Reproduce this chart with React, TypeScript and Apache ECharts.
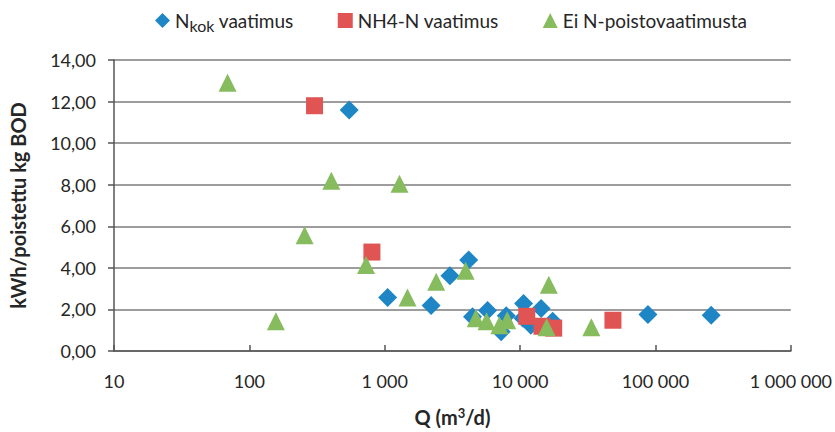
import React, { useEffect, useRef } from "react";
import * as echarts from "echarts";

// N_kok vaatimus
const nkokQ = [546, 1050, 2200, 3030, 4170, 4450, 5750, 7250, 7900, 10600, 10500, 12000, 14300, 17400, 88000, 258000];
const nkokE = [11.6, 2.57, 2.19, 3.62, 4.38, 1.65, 1.95, 0.93, 1.7, 2.29, 1.57, 1.24, 2.05, 1.43, 1.76, 1.72];

// NH4-N vaatimus
const nh4Q = [303, 804, 11200, 14500, 17700, 48500];
const nh4E = [11.8, 4.76, 1.67, 1.19, 1.1, 1.48];

// Ei N-poistovaatimusta
const eiQ = [69, 157, 256, 403, 728, 1285, 1473, 2400, 3960, 4700, 5650, 7030, 8030, 15700, 16300, 33600];
const eiE = [12.9, 1.43, 5.57, 8.19, 4.14, 8.05, 2.57, 3.33, 3.86, 1.57, 1.43, 1.24, 1.48, 1.14, 3.19, 1.14];

const seriesNames = ["N_kok vaatimus", "NH4-N vaatimus", "Ei N-poistovaatimusta"];
const xMin = 10;
const xMax = 1000000;
const yMin = 0;
const yMax = 14;
const yStep = 2;

const FONT = "Lato";
const TXT = "#262626";

const zip = (a: number[], b: number[]) => a.map((v, i) => [v, b[i]]);

export default function App() {
  const ref = useRef<HTMLDivElement>(null);
  useEffect(() => {
    if (!ref.current) return;
    const chart = echarts.init(ref.current, undefined, { renderer: "svg" });
    chart.setOption({
      animation: false,
      textStyle: { fontFamily: FONT, color: TXT },
      grid: { left: 110, right: 40, top: 60, bottom: 77, containLabel: false },
      legend: {
        top: 6,
        left: 150,
        itemGap: 44,
        itemWidth: 15,
        itemHeight: 15,
        data: [
          { name: seriesNames[0], icon: "diamond" },
          { name: seriesNames[1], icon: "rect" },
          { name: seriesNames[2], icon: "triangle" },
        ],
        formatter: (n: string) =>
          n === seriesNames[0] ? "N{sub|kok} vaatimus" : n,
        textStyle: {
          fontFamily: FONT,
          fontSize: 19,
          color: TXT,
          rich: {
            sub: { fontFamily: FONT, fontSize: 16, color: TXT, verticalAlign: "bottom", padding: [9, 0, 0, 0] },
          },
        },
      },
      xAxis: {
        type: "log",
        logBase: 10,
        min: xMin,
        max: xMax,
        name: "Q (m{sup|3}/d)",
        nameLocation: "middle",
        nameGap: 55,
        nameTextStyle: {
          fontFamily: FONT,
          fontSize: 20,
          fontWeight: "bold",
          color: TXT,
          rich: {
            sup: { fontFamily: FONT, fontSize: 13, fontWeight: "bold", color: TXT, verticalAlign: "top", padding: [0, 0, 9, 0] },
          },
        },
        axisLine: { show: true, lineStyle: { color: "#555", width: 1.5 } },
        axisTick: { show: true, inside: true, length: 6, lineStyle: { color: "#555", width: 1.5 } },
        minorTick: { show: false },
        splitLine: { show: false },
        axisLabel: {
          margin: 21,
          fontFamily: FONT,
          fontSize: 18,
          color: TXT,
          formatter: (v: number) =>
            String(Math.round(v)).replace(/\B(?=(\d{3})+(?!\d))/g, " "),
        },
      },
      yAxis: {
        type: "value",
        min: yMin,
        max: yMax,
        interval: yStep,
        name: "kWh/poistettu kg BOD",
        nameLocation: "middle",
        nameGap: 86,
        nameTextStyle: { fontFamily: FONT, fontSize: 20, fontWeight: "bold", color: TXT },
        axisLine: { show: true, lineStyle: { color: "#555", width: 1.5 } },
        axisTick: { show: true, inside: false, length: 6, lineStyle: { color: "#555", width: 1.5 } },
        splitLine: { show: true, lineStyle: { color: "#7c7c7c", width: 1.5 } },
        axisLabel: {
          margin: 18,
          fontFamily: FONT,
          fontSize: 18,
          color: TXT,
          formatter: (v: number) => v.toFixed(2).replace(".", ","),
        },
      },
      series: [
        {
          name: seriesNames[0],
          type: "scatter",
          symbol: "diamond",
          symbolSize: 19,
          itemStyle: { color: "#1F86C6", opacity: 1 },
          data: zip(nkokQ, nkokE),
        },
        {
          name: seriesNames[1],
          type: "scatter",
          symbol: "rect",
          symbolSize: 17,
          itemStyle: { color: "#E05453", opacity: 1 },
          data: zip(nh4Q, nh4E),
        },
        {
          name: seriesNames[2],
          type: "scatter",
          symbol: "triangle",
          symbolSize: 18,
          itemStyle: { color: "#86BB5E", opacity: 1 },
          data: zip(eiQ, eiE),
        },
      ],
    });
    return () => chart.dispose();
  }, []);
  return <div ref={ref} style={{ width: 835, height: 432, position: "absolute", left: 0, top: 0 }} />;
}
